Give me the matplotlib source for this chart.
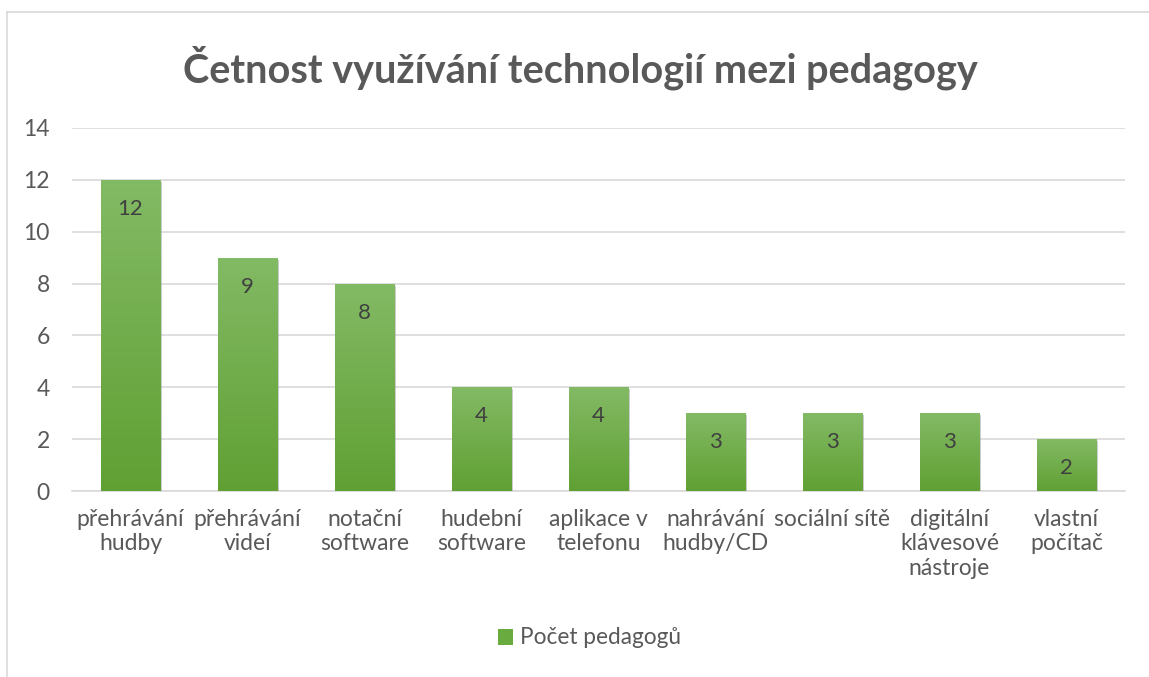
import numpy as np
import matplotlib
matplotlib.use('Agg')
import matplotlib.pyplot as plt
from matplotlib.lines import Line2D
from matplotlib.patches import Patch
from matplotlib.colors import LinearSegmentedColormap
import matplotlib.patheffects as pe

plt.rcParams['font.family'] = ['Lato', 'DejaVu Sans']

# Data
categories = ['přehrávání\nhudby', 'přehrávání\nvideí', 'notační\nsoftware',
              'hudební\nsoftware', 'aplikace v\ntelefonu', 'nahrávání\nhudby/CD',
              'sociální sítě', 'digitální\nklávesové\nnástroje', 'vlastní\npočítač']
values = [12, 9, 8, 4, 4, 3, 3, 3, 2]
series_name = 'Počet pedagogů'
title = 'Četnost využívání technologií mezi pedagogy'
yticks = [0, 2, 4, 6, 8, 10, 12, 14]

grey_text = '#595959'
grid_col = '#d9d9d9'
green_top = '#83ba65'
green_bot = '#60a033'

fig = plt.figure(figsize=(11.49, 6.77), dpi=100)
ax = fig.add_axes([72 / 1149, 1 - 491 / 677, (1125 - 72) / 1149, (491 - 128) / 677])

x = np.arange(len(categories))
width = 0.51

# plain bars first (used as clip paths and shadow carriers)
bars = ax.bar(x, values, width=width, color=green_bot, zorder=3,
              path_effects=[pe.SimplePatchShadow(offset=(1.5, -1.5), shadow_rgbFace='#9a9a9a', alpha=0.5),
                            pe.Normal()])

# vertical gradient inside each bar
cmap = LinearSegmentedColormap.from_list('g', [green_bot, green_top])
grad = np.linspace(0, 1, 256).reshape(-1, 1)
for b in bars:
    bx, bw, bh = b.get_x(), b.get_width(), b.get_height()
    im = ax.imshow(grad, cmap=cmap, origin='lower', aspect='auto',
                   extent=(bx, bx + bw, 0, bh), zorder=4)
    im.set_clip_path(b)

# value labels inside the top of each bar
for xi, v in zip(x, values):
    ax.annotate(str(v), (xi, v), xytext=(0, -21), textcoords='offset points',
                ha='center', va='center', fontsize=16, color='#404040', zorder=5)

ax.set_xlim(-0.5, len(categories) - 0.5)
ax.set_ylim(0, 14)
ax.set_yticks(yticks)
ax.set_xticks(x)
ax.set_xticklabels(categories, fontsize=16.5, color=grey_text, linespacing=1.2)
ax.tick_params(axis='y', labelsize=16.5, labelcolor=grey_text, length=0, pad=16)
ax.tick_params(axis='x', length=0, pad=13)

ax.grid(axis='y', color=grid_col, linewidth=1.2, zorder=0)
ax.set_axisbelow(True)
for s in ['top', 'right', 'left']:
    ax.spines[s].set_visible(False)
ax.spines['bottom'].set_color(grid_col)
ax.spines['bottom'].set_linewidth(1.2)

fig.text(0.505, 1 - 68 / 677, title, ha='center', va='center',
         fontsize=28.5, fontweight='bold', color=grey_text)

fig.legend(handles=[Patch(facecolor='#6aab40', edgecolor='none', label=series_name)],
           loc='center', bbox_to_anchor=(0.513, 1 - 638 / 677), frameon=False,
           fontsize=16.3, labelcolor=grey_text, handlelength=0.7, handleheight=0.7,
           handletextpad=0.3)

# chart frame edges visible in the crop
fig.add_artist(Line2D([7 / 1149, 7 / 1149], [0, 1 - 12 / 677], color=grid_col, linewidth=1.2))
fig.add_artist(Line2D([7 / 1149, 1], [1 - 12 / 677, 1 - 12 / 677], color=grid_col, linewidth=1.2))

fig.savefig('out.png', dpi=100)
